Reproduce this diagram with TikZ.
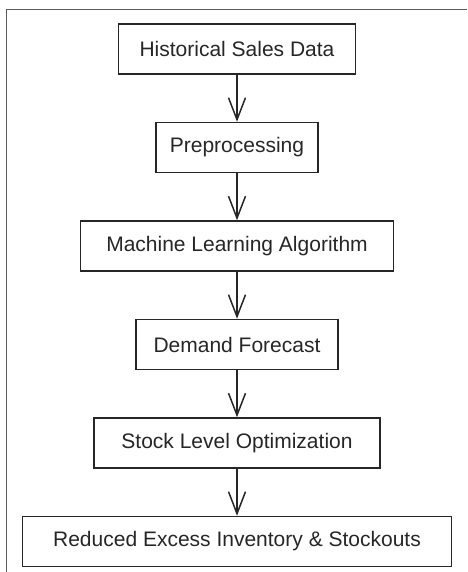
\documentclass[tikz,border=0pt]{standalone}
\usepackage{fontspec}
\setmainfont{Liberation Sans}
\usetikzlibrary{positioning,arrows.meta}
\definecolor{ink}{HTML}{262626}
\definecolor{frame}{HTML}{5A5A5A}

\begin{document}
\begin{tikzpicture}[x=1pt,y=1pt,node distance=47pt,>={Straight Barb[length=22pt,width=17pt]},
  box/.style={draw=ink,line width=1.5pt,minimum height=50pt,inner sep=0pt,text=ink,font=\fontsize{21}{25}\selectfont},
  arrow/.style={->,line width=1.5pt,color=ink}]
\useasboundingbox (0,0) rectangle (467,-572);
\draw[frame,line width=1pt] (6,-572) -- (6,-10) -- (467,-10);
\node[box,minimum width=237pt] (hist) at (237,-49) {Historical Sales Data};
\node[box,minimum width=162pt,below=of hist] (prep) {Preprocessing};
\node[box,minimum width=313pt,below=of prep] (mla) {Machine Learning Algorithm};
\node[box,minimum width=202pt,below=of mla] (fcst) {Demand Forecast};
\node[box,minimum width=286pt,below=of fcst] (opt) {Stock Level Optimization};
\node[box,minimum width=429pt,below=of opt] (res) {Reduced Excess Inventory \& Stockouts};
\draw[arrow] (hist) -- (prep);
\draw[arrow] (prep) -- (mla);
\draw[arrow] (mla) -- (fcst);
\draw[arrow] (fcst) -- (opt);
\draw[arrow] (opt) -- (res);
\end{tikzpicture}
\end{document}
